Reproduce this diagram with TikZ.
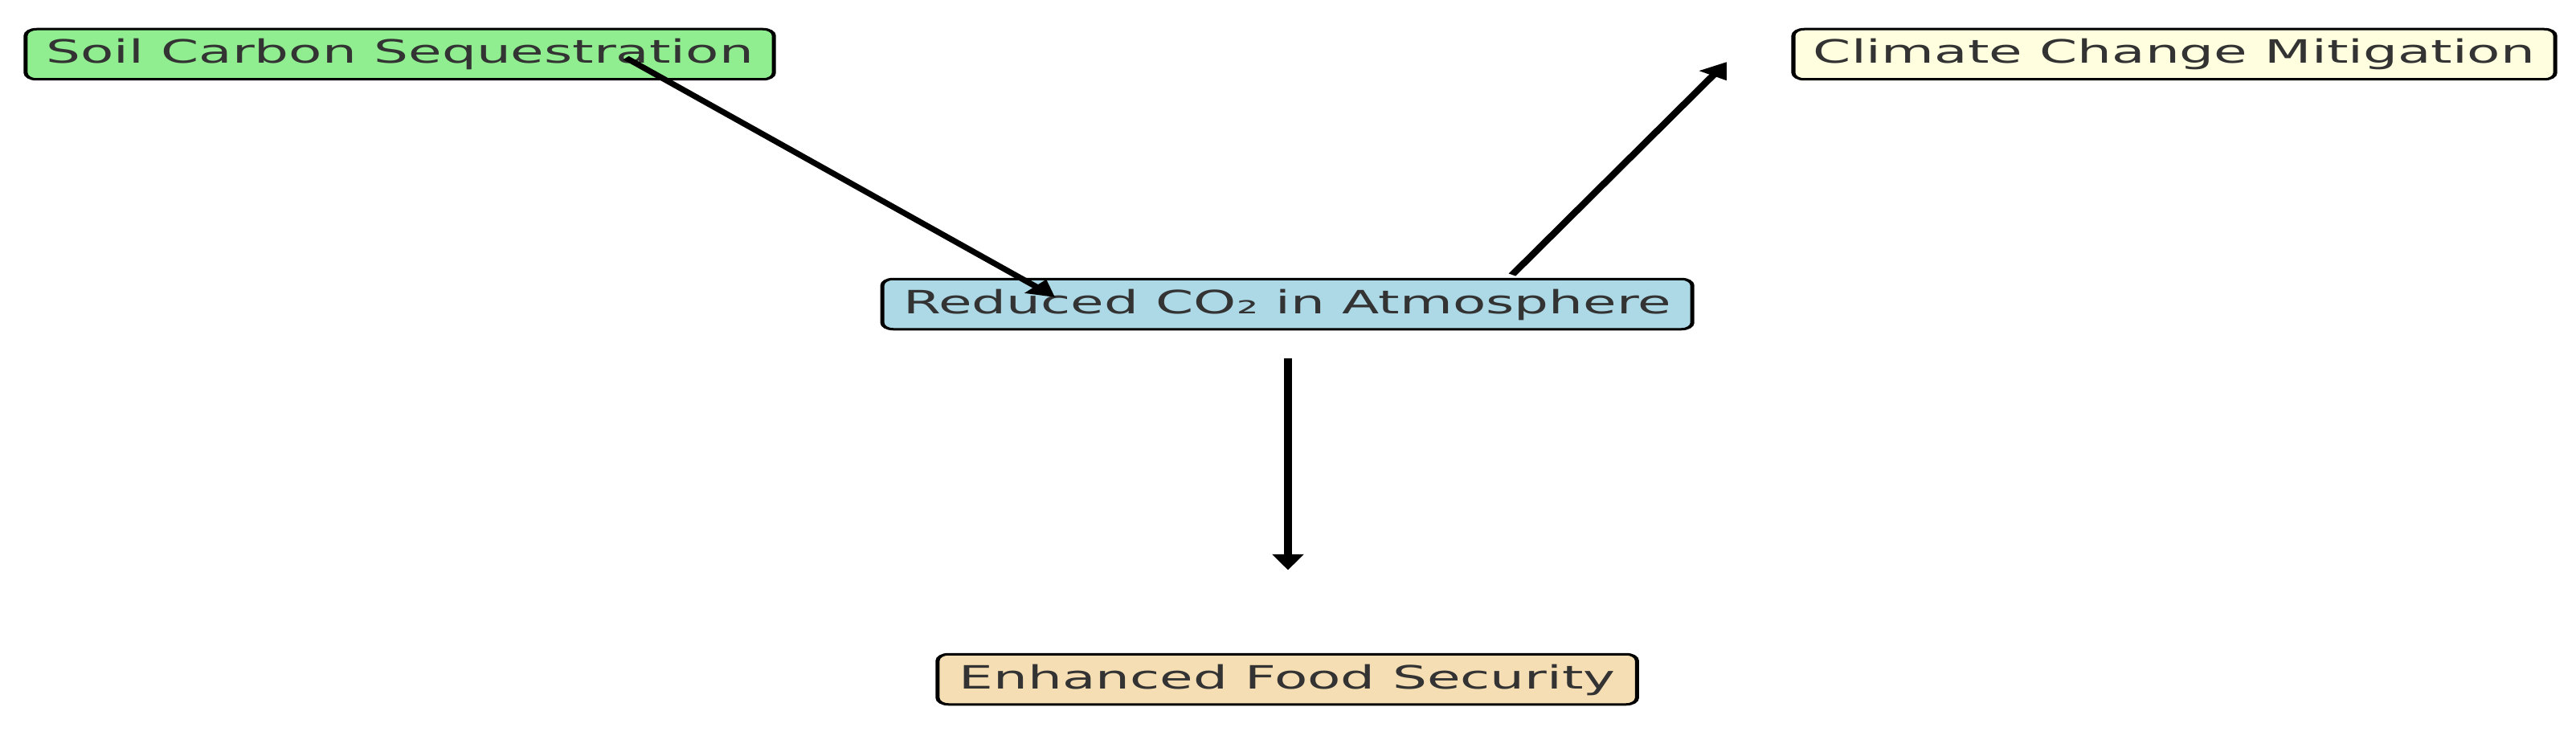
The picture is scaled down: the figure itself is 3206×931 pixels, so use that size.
\documentclass[tikz,border=0pt]{standalone}
\usepackage{fontspec}
\setmainfont{DejaVu Sans}
\usetikzlibrary{arrows.meta,calc}
\definecolor{lgreen}{HTML}{90EE90}
\definecolor{lyellow}{HTML}{FFFFE0}
\definecolor{lblue}{HTML}{ADD8E6}
\definecolor{lwheat}{HTML}{F5DEB3}
\definecolor{txtgray}{HTML}{333333}
\tikzset{
  box/.style={draw=black, line width=3pt, rounded corners=8pt, text=txtgray,
    font=\fontsize{40pt}{48pt}\selectfont, text height=33pt, text depth=10pt,
    minimum height=62.5pt, inner xsep=0pt, inner ysep=0pt},
  conn/.style={line width=6pt, black, -{Triangle[length=20pt,width=22pt]}}
}
\begin{document}
\begin{tikzpicture}[x=1pt,y=-1pt]
\useasboundingbox[fill=white] (0,0) rectangle (3206,931);
\begin{scope}[transform canvas={xscale=1.69}]
  \node[box, fill=lgreen, minimum width=551pt] (soil) at (294.4,67.5) {Soil Carbon Sequestration};
  \node[box, fill=lyellow, minimum width=561pt] (climate) at (1601.2,67.5) {Climate Change Mitigation};
  \node[box, fill=lblue, minimum width=596.5pt] (reduced) at (948,378.5) {Reduced CO₂ in Atmosphere};
  \node[box, fill=lwheat, minimum width=515pt] (food) at (948,845.5) {Enhanced Food Security};
  \coordinate (a1s) at ($(soil.center)+(166.6,4.5)$);
  \coordinate (a1e) at ($(reduced.center)+(-171,-8.5)$);
  \coordinate (a2s) at ($(reduced.center)+(165.6,-36.5)$);
  \coordinate (a2e) at ($(climate.center)+(-329.6,9.5)$);
  \coordinate (a3s) at ($(reduced.south)+(0.5,35)$);
  \coordinate (a3e) at ($(food.north)+(0.5,-103)$);
  \draw[conn] (a1s) -- (a1e);
  \draw[conn] (a2s) -- (a2e);
  \draw[conn] (a3s) -- (a3e);
\end{scope}
\end{tikzpicture}
\end{document}
